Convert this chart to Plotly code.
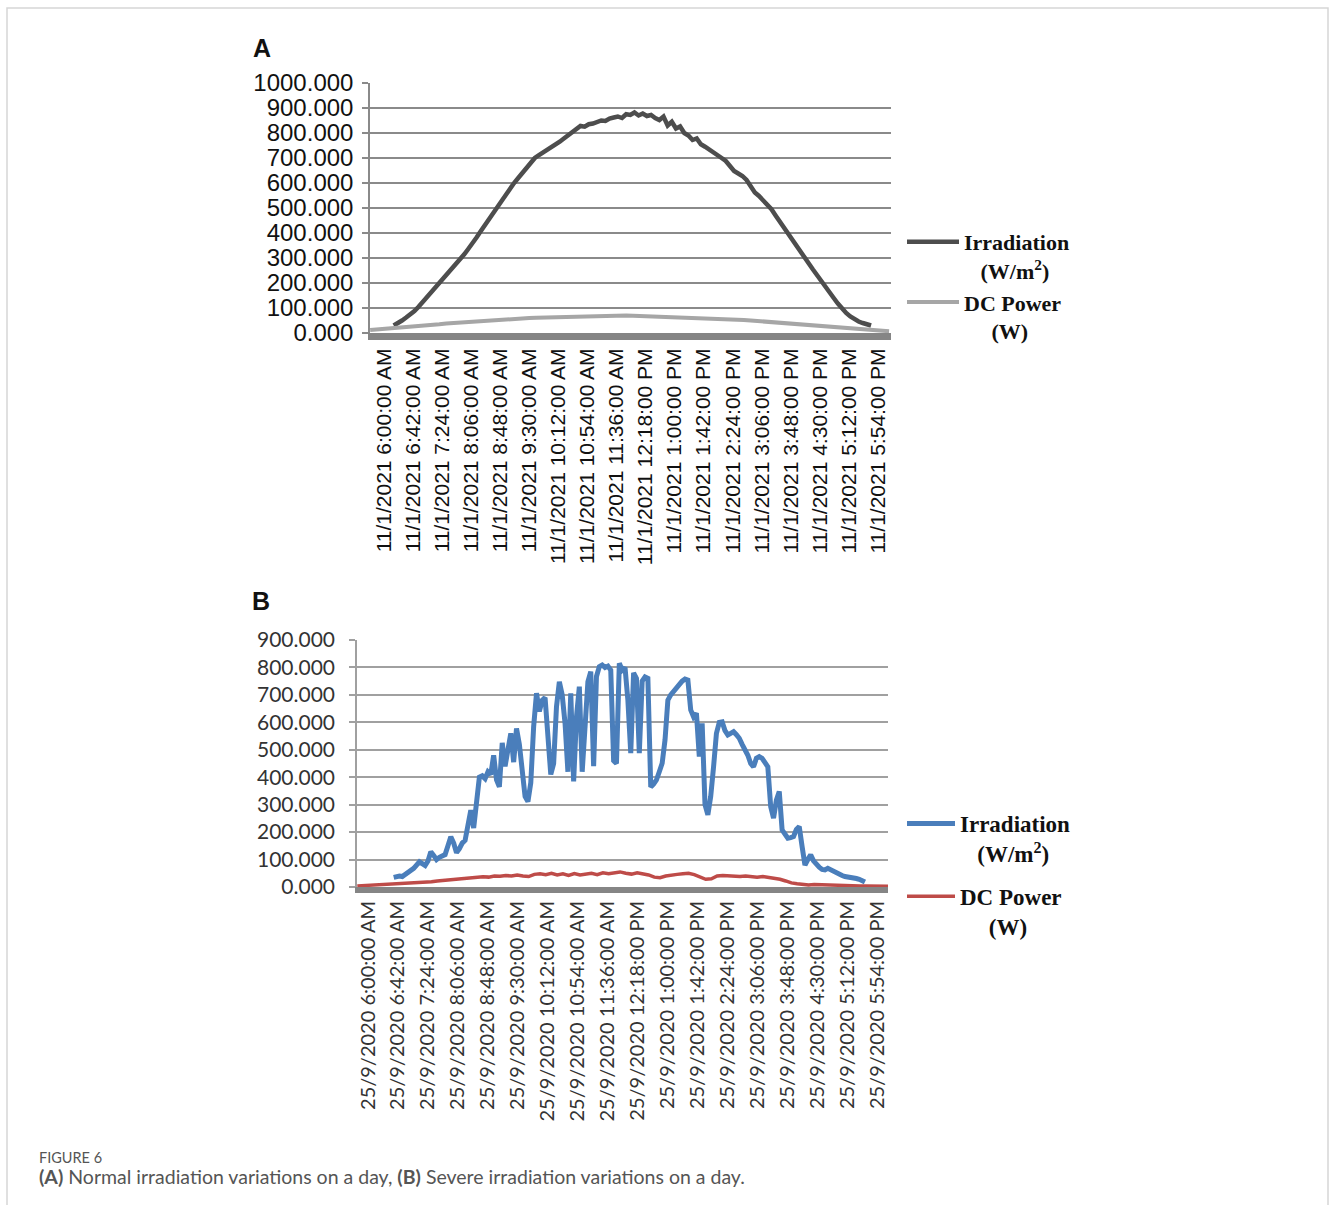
import pandas as pd
import plotly.graph_objects as go

W, H = 1330, 1205

# ---------------- data ----------------
A_DATE = "2021-11-01"
B_DATE = "2020-09-25"
A_LABEL_DATE = "11/1/2021"
B_LABEL_DATE = "25/9/2020"

TICK_TIMES = ["06:00", "06:42", "07:24", "08:06", "08:48", "09:30", "10:12", "10:54", "11:36",
              "12:18", "13:00", "13:42", "14:24", "15:06", "15:48", "16:30", "17:12", "17:54"]
TICK_TEXT_TIMES = ["6:00:00 AM", "6:42:00 AM", "7:24:00 AM", "8:06:00 AM", "8:48:00 AM",
                   "9:30:00 AM", "10:12:00 AM", "10:54:00 AM", "11:36:00 AM", "12:18:00 PM",
                   "1:00:00 PM", "1:42:00 PM", "2:24:00 PM", "3:06:00 PM", "3:48:00 PM",
                   "4:30:00 PM", "5:12:00 PM", "5:54:00 PM"]

# Panel A - irradiation (W/m2), sampled every 6 min from 06:14
A_IRR_START, A_IRR_STEP = "06:14", 6
A_IRR = [30, 38, 50, 62, 74, 88, 105, 124, 143, 161,
         180, 198, 216, 234, 252, 272, 293, 315, 337, 358,
         383, 408, 432, 458, 483, 508, 530, 555, 578, 600,
         620, 640, 660, 682, 700, 712, 722, 735, 745, 752,
         765, 778, 790, 800, 812, 828, 825, 835, 838, 845,
         850, 848, 858, 862, 866, 860, 875, 872, 882, 870,
         878, 868, 872, 860, 852, 866, 830, 845, 818, 826,
         800, 790, 772, 778, 755, 745, 735, 725, 712, 700,
         688, 670, 648, 638, 628, 612, 590, 562, 548, 530,
         518, 495, 470, 445, 420, 397, 372, 348, 325, 301,
         278, 254, 230, 207, 183, 160, 140, 118, 98, 80,
         66, 55, 46, 40, 34, 30]
# Panel A - DC power (W), every 10 min from 05:40
A_DC_START, A_DC_STEP = "05:40", 10
A_DC = [12, 14, 15, 17, 19, 21, 24, 26, 29, 32,
        35, 38, 40, 43, 45, 48, 50, 52, 54, 55,
        57, 58, 59, 60, 61, 62, 63, 64, 65, 66,
        67, 67, 68, 68, 69, 70, 69, 70, 69, 68,
        68, 67, 67, 66, 65, 64, 63, 62, 61, 60,
        58, 57, 55, 54, 52, 50, 48, 46, 44, 42,
        40, 38, 35, 33, 31, 29, 27, 25, 23, 21,
        19, 16, 13, 11, 9, 7]

# Panel B - irradiation (W/m2), every 4 min from 06:36
B_IRR_START, B_IRR_STEP = "06:36", 4
B_IRR = [35, 38, 40, 38, 45, 52, 60, 68, 80, 92,
         85, 78, 95, 128, 115, 100, 108, 112, 118, 150,
         183, 160, 125, 140, 160, 170, 240, 280, 215, 320,
         400, 405, 395, 420, 410, 480, 390, 365, 525, 440,
         500, 560, 455, 578, 520, 420, 330, 311, 380, 584,
         706, 640, 680, 690, 560, 410, 450, 657, 748, 700,
         596, 420, 706, 385, 620, 730, 420, 560, 748, 785,
         440, 767, 803, 809, 800, 805, 790, 460, 450, 815,
         790, 800, 680, 488, 780, 760, 488, 750, 765, 760,
         365, 375, 390, 420, 451, 536, 681, 700, 712, 730,
         742, 750, 758, 754, 645, 620, 633, 475, 596, 300,
         263, 330, 438, 560, 600, 602, 570, 554, 560, 566,
         555, 542, 520, 500, 480, 450, 438, 469, 475, 469,
         455, 438, 293, 251, 317, 348, 208, 195, 178, 180,
         184, 210, 220, 147, 80, 100, 117, 95, 80, 72,
         64, 62, 68, 62, 55, 50, 45, 42, 38, 37,
         35, 33, 31, 28, 22, 18]
# Panel B - DC power (W), every 8 min from 05:45
B_DC_START, B_DC_STEP = "05:45", 8
B_DC = [4, 5, 5, 6, 7, 8, 9, 10, 11, 14,
        16, 16, 17, 19, 22, 24, 23, 26, 30, 32,
        31, 35, 37, 36, 40, 39, 42, 40, 44, 40,
        38, 46, 48, 45, 50, 44, 48, 42, 49, 44,
        47, 50, 45, 52, 48, 50, 55, 50, 47, 52,
        48, 44, 36, 34, 40, 44, 46, 48, 50, 45,
        38, 28, 30, 40, 42, 40, 39, 38, 40, 38,
        36, 38, 35, 30, 28, 22, 15, 12, 9, 7,
        9, 8, 7, 6, 6, 5, 5, 4, 4, 4,
        3, 3, 3, 3]


def times(date, start, step, n):
    return pd.date_range(f"{date} {start}", periods=n, freq=f"{step}min")


def px_x(x):
    return x / W


def px_y(y):
    return 1 - y / H


NB = "\u00a0"
NAME_IRR = f"<b>Irradiation</b><br><b>{NB * 3}(W/m<sup>2</sup>)</b>"
NAME_DC = f"<b>DC Power</b><br><b>{NB * 5}(W)</b>"

fig = go.Figure()

fig.add_trace(go.Scatter(x=times(A_DATE, A_IRR_START, A_IRR_STEP, len(A_IRR)), y=A_IRR,
                         mode="lines", line=dict(color="#4d4d4d", width=4.5),
                         name=NAME_IRR, xaxis="x", yaxis="y", legend="legend", legendgroup="a1"))
fig.add_trace(go.Scatter(x=times(A_DATE, A_DC_START, A_DC_STEP, len(A_DC)), y=A_DC,
                         mode="lines", line=dict(color="#a6a6a6", width=4),
                         name=NAME_DC, xaxis="x", yaxis="y", legend="legend", legendgroup="a2"))
fig.add_trace(go.Scatter(x=times(B_DATE, B_IRR_START, B_IRR_STEP, len(B_IRR)), y=B_IRR,
                         mode="lines", line=dict(color="#4a7ebb", width=5),
                         name=NAME_IRR, xaxis="x2", yaxis="y2", legend="legend2", legendgroup="b1"))
fig.add_trace(go.Scatter(x=times(B_DATE, B_DC_START, B_DC_STEP, len(B_DC)), y=B_DC,
                         mode="lines", line=dict(color="#be4b48", width=3.5),
                         name=NAME_DC, xaxis="x2", yaxis="y2", legend="legend2", legendgroup="b2"))

A_TICKVALS = [f"{A_DATE} {t}" for t in TICK_TIMES]
B_TICKVALS = [f"{B_DATE} {t}" for t in TICK_TIMES]
A_TICKTEXT = [f"{A_LABEL_DATE} {t}" for t in TICK_TEXT_TIMES]
B_TICKTEXT = [f"{B_LABEL_DATE} {t}" for t in TICK_TEXT_TIMES]

axis_font_a = dict(family="Liberation Sans, Arial, sans-serif", size=21, color="#111111")
axis_font_b = dict(family="Lato, sans-serif", size=20, color="#333333")

fig.update_layout(
    width=W, height=H,
    margin=dict(l=0, r=0, t=0, b=0),
    paper_bgcolor="white", plot_bgcolor="white",
    showlegend=True,
    xaxis=dict(domain=[px_x(370), px_x(891)], anchor="y", type="date",
               range=[f"{A_DATE} 05:39:46", f"{A_DATE} 18:12:48"],
               tickmode="array", tickvals=A_TICKVALS, ticktext=A_TICKTEXT,
               tickangle=-90, tickfont=axis_font_a, ticks="", showgrid=False,
               showline=True, linecolor="#858585", linewidth=7, zeroline=False,
               automargin=False),
    yaxis=dict(domain=[px_y(333), px_y(83)], anchor="x", range=[0, 1000],
               tickmode="array", tickvals=list(range(0, 1001, 100)), tickformat=".3f",
               tickfont=dict(family="Liberation Sans, Arial, sans-serif", size=24, color="#111111"),
               ticks="outside", ticklen=6, tickcolor="#8a8a8a", tickwidth=1.5,
               ticklabelstandoff=4,
               showgrid=True, gridcolor="#8a8a8a", gridwidth=1.5,
               showline=True, linecolor="#8a8a8a", linewidth=1.5, zeroline=False,
               automargin=False),
    xaxis2=dict(domain=[px_x(357), px_x(888)], anchor="y2", type="date",
                range=[f"{B_DATE} 05:44:36", f"{B_DATE} 18:08:18"],
                tickmode="array", tickvals=B_TICKVALS, ticktext=B_TICKTEXT,
                tickangle=-90, tickfont=axis_font_b, ticks="", showgrid=False,
                showline=True, linecolor="#858585", linewidth=6, zeroline=False,
                automargin=False),
    yaxis2=dict(domain=[px_y(887), px_y(640)], anchor="x2", range=[0, 900],
                tickmode="array", tickvals=list(range(0, 901, 100)), tickformat=".3f",
                tickfont=dict(family="Lato, sans-serif", size=21, color="#333333"),
                ticks="outside", ticklen=6, tickcolor="#a0a0a0", tickwidth=1.5,
                ticklabelstandoff=10,
                showgrid=True, gridcolor="#a0a0a0", gridwidth=1.5,
                showline=True, linecolor="#a0a0a0", linewidth=1.5, zeroline=False,
                automargin=False),
    legend=dict(x=px_x(902), y=px_y(221), xanchor="left", yanchor="top",
                font=dict(family="Liberation Serif, Times New Roman, serif", size=22, color="#111111"),
                bgcolor="rgba(0,0,0,0)", valign="top", itemwidth=52,
                traceorder="normal"),
    legend2=dict(x=px_x(902), y=px_y(802), xanchor="left", yanchor="top",
                 font=dict(family="Liberation Serif, Times New Roman, serif", size=23, color="#111111"),
                 bgcolor="rgba(0,0,0,0)", valign="top", itemwidth=48,
                 tracegroupgap=10, traceorder="grouped"),
)

annotations = [
    dict(text="<b>A</b>", x=px_x(251), y=px_y(48), xanchor="left", yanchor="middle",
         font=dict(family="Liberation Sans, Arial, sans-serif", size=25, color="#111111")),
    dict(text="<b>B</b>", x=px_x(250), y=px_y(601), xanchor="left", yanchor="middle",
         font=dict(family="Liberation Sans, Arial, sans-serif", size=25, color="#111111")),
    dict(text="FIGURE 6", x=px_x(37), y=px_y(1157), xanchor="left", yanchor="middle",
         font=dict(family="Lato, sans-serif", size=14.5, color="#555555")),
    dict(text="<b>(A)</b> Normal irradiation variations on a day, <b>(B)</b> Severe irradiation variations on a day.",
         x=px_x(37), y=px_y(1176), xanchor="left", yanchor="middle",
         font=dict(family="Lato, sans-serif", size=19.5, color="#555555")),
]
for a in annotations:
    a.update(xref="paper", yref="paper", showarrow=False)
fig.update_layout(annotations=annotations)

fig.add_shape(type="rect", xref="paper", yref="paper",
              x0=px_x(7), x1=px_x(1328), y0=px_y(1215), y1=px_y(8),
              line=dict(color="#d6d6d6", width=1.5), fillcolor="rgba(0,0,0,0)", layer="below")

fig.write_html("out.html")
